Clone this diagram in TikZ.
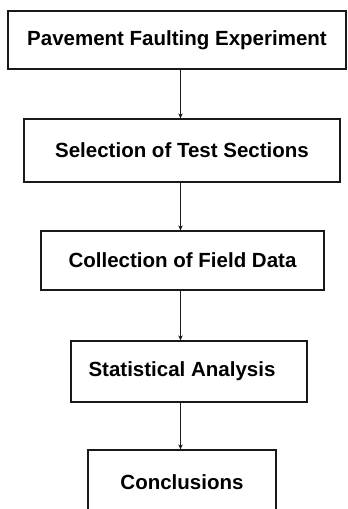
\documentclass[tikz,border=0pt]{standalone}
\usepackage{fontspec}
\setmainfont{Liberation Sans}
\usetikzlibrary{arrows.meta}
\begin{document}
\begin{tikzpicture}[x=1pt,y=-1pt,
  stage/.style={draw=black!90, line width=1.3pt, rectangle, inner sep=0pt,
    font=\fontsize{20.5}{24}\selectfont\bfseries},
  flow/.style={draw=black!90, line width=1.2pt, -{Stealth[length=5pt,width=4.5pt]}}]
  \useasboundingbox (0,0) rectangle (348,509);
  \clip (0,0) rectangle (348,509);
  % process stages, top to bottom
  \node[stage, minimum width=338pt, minimum height=58pt] (b1) at (177,40) {Pavement Faulting Experiment};
  \node[stage, minimum width=316pt, minimum height=63pt] (b2) at (182,150.5) {Selection of Test Sections};
  \node[stage, minimum width=283pt, minimum height=59pt] (b3) at (182.5,260.5) {Collection of Field Data};
  \node[stage, minimum width=236pt, minimum height=61pt] (b4) at (189,371.5) {Statistical Analysis\hspace*{14pt}};
  \node[stage, minimum width=188pt, minimum height=64pt] (b5) at (182,482) {Conclusions};
  % vertical connector line
  \coordinate (ax) at (180.5,0);
  \draw[flow] (b1.south -| ax) -- (b2.north -| ax);
  \draw[flow] (b2.south -| ax) -- (b3.north -| ax);
  \draw[flow] (b3.south -| ax) -- (b4.north -| ax);
  \draw[flow] (b4.south -| ax) -- (b5.north -| ax);
\end{tikzpicture}
\end{document}
